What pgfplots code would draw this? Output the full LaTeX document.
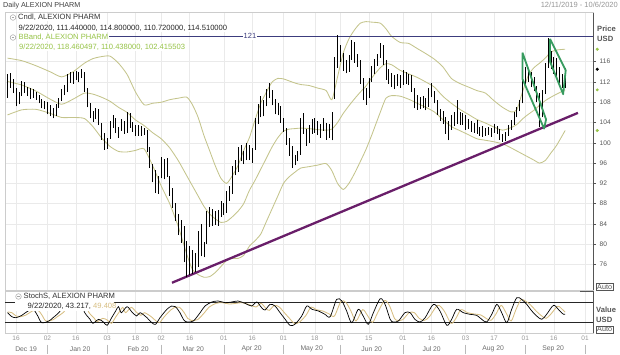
\documentclass[border=0pt]{standalone}
\usepackage{fontspec}
\setmainfont{Liberation Sans}
\usepackage{pgfplots}
\pgfplotsset{compat=1.18}
\usepackage{pgfplotstable}

\definecolor{bandcol}{RGB}{196,196,140}
\definecolor{bbtext}{RGB}{150,195,70}
\definecolor{trendcol}{RGB}{105,30,105}
\definecolor{lvlcol}{RGB}{60,60,125}
\definecolor{flagcol}{RGB}{55,155,95}
\definecolor{dcol}{RGB}{215,190,130}
\definecolor{gridcol}{RGB}{234,234,234}
\definecolor{txtgray}{RGB}{85,85,85}
\definecolor{lgray}{RGB}{150,150,150}

\pgfplotsset{
  discard if not/.style 2 args={
    x filter/.append code={
      \edef\tempa{\thisrow{#1}}
      \edef\tempb{#2}
      \ifx\tempa\tempb\else\def\pgfmathresult{inf}\fi
    }
  }
}
\tikzset{monthlab/.style={font=\fontsize{6.8}{7}\selectfont, text=gray!85!black, inner sep=0pt}}

\pgfplotstableread{
i o h l c up
0 109.5 113.6 108.8 112.8 1
1 112.5 113.8 110.9 111.4 0
2 111.6 112.6 109.8 110.6 0
3 110.4 110.8 107.2 108.0 0
4 108.3 110.1 107.6 109.6 1
5 109.8 112.2 109.2 111.6 1
6 111.4 112.0 109.8 110.2 0
7 110.3 111.0 109.2 110.6 1
8 110.5 110.9 108.6 109.1 0
9 109.0 110.6 108.9 109.9 1
10 109.8 110.0 108.4 108.6 0
11 108.7 109.4 107.8 108.2 0
12 108.0 108.6 106.8 107.2 0
13 107.4 108.2 106.6 107.8 1
14 107.8 108.0 105.6 106.0 0
15 106.2 107.4 105.2 106.8 1
16 106.5 106.9 104.8 105.4 0
17 105.6 107.6 105.2 107.2 1
18 107.3 108.9 106.9 108.6 1
19 108.5 110.6 108.2 110.3 1
20 110.4 111.4 109.4 110.0 0
21 110.4 113.6 110.0 113.2 1
22 113.0 114.0 111.8 112.4 0
23 112.6 113.9 111.6 113.5 1
24 113.4 114.2 112.4 112.8 0
25 112.7 113.9 111.9 113.6 1
26 113.6 114.5 112.8 114.0 1
27 113.6 113.9 110.0 110.6 0
28 110.6 110.9 107.0 107.6 0
29 107.6 107.9 104.8 105.4 0
30 105.5 106.3 104.2 105.8 1
31 105.8 106.8 104.6 105.0 0
32 105.4 106.7 103.5 104.0 0
33 103.8 104.0 100.6 101.2 0
34 101.0 101.9 98.6 99.4 0
35 99.6 101.0 98.8 100.4 1
36 101.0 104.4 100.8 103.8 1
37 103.8 105.5 102.9 104.8 1
38 104.5 104.9 101.9 102.4 0
39 102.2 103.2 101.0 102.9 1
40 103.0 104.6 102.4 104.2 1
41 104.1 104.4 101.8 102.3 0
42 102.4 106.1 102.0 105.6 1
43 105.4 105.8 103.0 103.6 0
44 103.4 104.2 102.2 103.0 0
45 103.2 103.5 101.3 101.8 0
46 101.9 103.6 101.4 103.1 1
47 103.0 103.4 101.4 101.9 0
48 102.2 103.0 101.6 102.4 1
49 102.0 102.5 98.2 98.8 0
50 98.7 99.2 95.0 95.6 0
51 95.4 95.9 92.2 92.8 0
52 93.0 94.6 90.1 91.0 0
53 90.6 93.5 90.0 93.2 1
54 93.4 97.2 93.0 96.8 1
55 96.4 96.8 92.8 93.4 0
56 93.6 97.0 93.2 94.0 1
57 93.0 93.4 89.6 90.2 0
58 90.0 91.0 87.2 88.0 0
59 87.0 88.2 84.6 85.4 0
60 85.0 86.0 81.8 82.4 0
61 82.0 84.8 80.2 83.6 1
62 83.0 83.6 76.4 77.2 0
63 76.5 80.6 73.5 79.8 1
64 78.0 79.6 74.0 74.6 0
65 74.8 78.8 74.2 78.2 1
66 77.0 78.2 74.6 76.4 0
67 76.4 82.6 75.6 81.8 1
68 82.0 84.0 77.6 78.6 0
69 79.0 80.4 77.4 79.6 1
70 80.2 86.6 80.0 85.8 1
71 86.0 87.4 83.4 84.2 0
72 84.4 87.0 83.6 86.4 1
73 86.0 86.6 83.8 84.4 0
74 84.6 86.8 83.6 86.2 1
75 86.0 88.6 85.4 88.0 1
76 87.6 88.2 85.8 86.6 0
77 86.8 90.4 86.2 90.0 1
78 89.8 91.4 88.6 89.2 0
79 90.4 95.4 90.0 94.8 1
80 95.0 96.6 93.6 94.4 0
81 94.6 99.2 94.2 98.6 1
82 98.6 99.6 96.4 97.2 0
83 97.0 98.4 95.8 96.6 0
84 97.0 99.9 96.6 99.4 1
85 99.2 99.6 96.6 97.4 0
86 97.6 99.0 96.0 98.4 1
87 99.0 104.8 98.6 104.2 1
88 104.4 107.6 103.8 107.0 1
89 106.6 109.2 105.0 105.6 0
90 105.8 108.4 105.2 107.8 1
91 107.8 110.6 107.2 110.2 1
92 110.0 111.7 108.8 109.6 0
93 109.4 110.4 107.4 108.0 0
94 108.0 108.6 105.6 106.2 0
95 106.4 107.8 105.4 107.2 1
96 106.8 107.2 104.0 104.6 0
97 104.4 104.8 102.2 102.8 0
98 102.6 103.0 99.6 100.2 0
99 100.4 101.0 97.4 98.0 0
100 98.0 99.4 95.0 96.4 0
101 96.6 97.6 95.6 97.0 1
102 97.2 98.4 96.4 97.8 1
103 98.0 104.8 97.6 104.2 1
104 104.0 105.8 101.8 102.4 0
105 102.2 102.8 99.4 100.2 0
106 100.4 103.6 100.0 103.0 1
107 103.0 104.6 101.8 102.2 0
108 102.6 104.8 102.0 104.2 1
109 104.0 104.4 101.6 102.0 0
110 102.2 103.8 101.0 103.2 1
111 103.4 104.8 102.4 103.6 1
112 103.4 104.0 100.6 101.4 0
113 101.6 103.8 101.0 103.2 1
114 103.0 106.0 100.5 105.6 1
115 109.0 117.0 108.6 116.2 1
116 116.0 121.3 114.8 118.6 1
117 118.4 119.2 116.0 116.8 0
118 116.6 117.8 114.2 115.0 0
119 115.2 116.4 113.7 114.4 0
120 114.6 117.4 114.0 117.0 1
121 117.2 120.3 116.4 119.4 1
122 119.2 119.8 115.8 116.4 0
123 116.4 117.6 115.0 115.8 0
124 116.0 116.4 111.6 112.2 0
125 112.0 112.8 108.4 109.2 0
126 109.0 110.8 107.5 110.2 1
127 110.4 112.8 108.8 112.4 1
128 112.6 115.2 112.0 114.6 1
129 114.4 116.6 113.6 115.8 1
130 116.0 117.6 115.2 117.2 1
131 117.4 119.6 116.8 118.6 1
132 118.4 119.2 115.4 115.8 0
133 115.6 116.4 112.4 113.2 0
134 113.4 114.6 111.6 112.6 0
135 112.4 113.8 111.0 113.2 1
136 113.0 113.4 110.6 111.4 0
137 111.6 113.6 111.2 113.0 1
138 112.8 113.4 110.8 111.6 0
139 111.8 114.4 111.4 113.8 1
140 113.6 114.0 111.6 112.2 0
141 112.4 113.6 111.4 113.2 1
142 113.0 113.4 110.0 110.6 0
143 110.4 110.8 106.8 107.4 0
144 107.6 109.4 106.5 108.8 1
145 108.6 109.0 106.6 107.2 0
146 107.4 109.2 106.8 108.6 1
147 108.4 108.8 106.4 107.0 0
148 107.2 110.8 107.0 110.4 1
149 110.2 111.7 109.0 109.6 0
150 109.6 110.2 107.8 108.2 0
151 108.0 108.4 105.4 106.0 0
152 106.2 106.6 104.4 105.0 0
153 105.0 106.2 103.8 104.4 0
154 104.6 105.0 101.8 102.4 0
155 102.6 104.4 100.5 103.8 1
156 103.6 105.4 102.6 104.8 1
157 104.6 106.0 103.4 104.0 0
158 104.2 108.4 103.8 105.6 1
159 105.4 106.0 103.6 104.2 0
160 104.4 105.8 103.6 105.2 1
161 105.0 105.4 102.6 103.2 0
162 103.4 104.6 102.8 104.0 1
163 104.0 104.4 102.2 102.6 0
164 102.8 104.0 102.0 103.6 1
165 103.4 104.5 101.8 102.2 0
166 102.4 103.2 101.4 102.8 1
167 102.6 103.4 101.2 101.8 0
168 101.8 103.0 101.4 102.6 1
169 102.4 103.2 101.6 102.0 0
170 102.2 103.0 101.2 102.6 1
171 102.8 103.8 102.0 103.2 1
172 103.0 103.4 101.8 102.0 0
173 102.0 102.8 100.6 101.0 0
174 101.0 101.8 100.2 100.8 0
175 100.8 102.2 100.4 101.8 1
176 101.8 103.6 101.4 103.2 1
177 103.2 104.5 102.6 104.0 1
178 104.0 106.0 103.6 105.6 1
179 105.6 107.1 105.0 106.8 1
180 106.8 108.4 106.2 107.8 1
181 108.0 115.0 107.8 114.4 1
182 114.2 115.0 111.6 112.4 0
183 112.6 114.7 112.0 114.2 1
184 113.8 114.0 111.0 111.4 0
185 111.6 113.0 110.2 110.6 0
186 110.4 111.2 108.0 108.6 0
187 108.8 109.8 103.2 105.0 0
188 105.2 110.4 105.0 109.8 1
189 110.0 115.7 109.6 115.2 1
190 115.4 120.6 114.8 117.4 1
191 117.4 118.2 114.6 115.2 0
192 115.0 117.0 113.6 116.4 1
193 116.2 116.8 113.0 113.6 0
194 113.8 115.0 111.8 112.6 0
195 112.4 113.6 110.8 111.6 0
196 111.44 114.8 110.72 114.51 1
}\candles

\pgfplotstableread{
i U M L
0 116.7 112.1 105.5
5 116.2 111.4 106.5
10 115.2 110.2 106.6
15 114.0 108.6 105.8
19 113.0 107.6 105.0
23 114.0 108.6 105.0
27 115.7 109.8 104.8
30 116.6 109.6 103.2
33 117.0 109.0 101.0
36 117.1 108.2 99.3
39 115.7 107.0 98.3
42 113.5 106.0 98.2
45 110.0 104.5 98.5
48 107.5 103.4 98.8
51 107.8 102.0 95.5
54 108.0 100.8 91.5
57 108.5 99.0 88.0
60 108.8 96.5 83.5
63 109.0 93.5 78.0
65 107.5 91.5 75.0
67 105.0 89.5 74.0
69 101.5 87.5 73.5
71 98.5 86.0 73.6
73 95.5 85.0 74.4
75 93.0 84.3 75.6
77 92.0 84.5 76.8
79 93.5 85.4 77.2
81 95.5 86.5 77.2
83 98.5 88.0 77.8
85 101.0 90.6 79.6
87 104.5 92.6 80.7
89 107.8 94.8 82.0
91 110.0 97.0 84.5
93 112.0 99.2 87.0
95 112.7 101.0 89.5
97 112.6 102.3 92.0
99 112.2 102.7 93.3
101 111.8 102.8 94.2
103 111.5 102.9 95.0
106 111.3 102.8 95.3
109 110.8 102.6 95.6
112 110.3 102.5 95.9
114 108.5 102.7 94.5
116 113.0 104.0 92.0
118 117.7 105.8 90.8
120 120.5 107.3 92.0
122 122.3 108.7 94.0
124 123.6 110.0 96.3
126 123.9 111.2 98.7
128 123.8 112.8 101.5
131 123.6 114.8 106.0
133 122.5 115.6 108.8
135 121.0 115.4 109.3
138 119.8 114.3 109.2
141 119.6 113.6 108.6
144 118.6 112.9 107.8
147 117.6 112.0 107.0
150 116.5 111.0 106.1
153 115.0 109.2 104.6
156 112.7 107.8 103.2
159 111.7 106.6 102.4
162 111.0 105.6 101.6
165 110.3 104.6 100.8
168 109.8 103.9 100.5
171 108.3 103.1 100.2
174 107.0 102.5 99.8
177 106.1 103.0 99.0
179 106.5 103.6 98.4
181 110.0 104.7 97.8
183 113.2 105.6 97.2
185 114.8 106.4 96.6
187 115.7 107.4 96.0
189 116.7 108.3 96.5
191 117.9 109.0 98.0
193 118.3 109.6 99.5
196 118.46 110.44 102.42
}\bands

\pgfplotstableread{
i k
0 48
1.5 36
3 33
5 40
7 52
9 58
10.5 40
12 18
14.5 23
16 33
18 48
20 70
22 85
24 88
26 82
27 50
29 28
30 16
32 28
33.7 20
35 10
36.6 33
38 53
39 66
40 48
42 66
43.7 50
45.4 38
46.6 48
49 33
50.7 18
52 13
53.6 33
56 58
57.7 68
59 66
60.6 48
61.8 28
63 20
65.3 23
67.7 48
69.4 68
71.8 80
74 83
76.5 78
78.8 80
81 83
83.5 76
85.8 68
87.6 80
89.3 63
90.5 56
92.3 73
94 68
95.8 48
97.6 28
99.3 10
101 13
103.4 38
105.2 68
107 58
109.3 53
111.6 43
113.4 36
115.7 88
117.5 83
119.2 53
121 18
123.3 58
125 38
126.8 13
128.6 48
131 90
132.7 73
134.5 28
135.6 20
137.4 23
139.7 48
141.5 48
143.2 28
145 20
146.8 33
149.7 73
152 53
154.4 10
156.1 28
157.9 58
160.2 48
162.6 43
164.9 40
166.7 28
168.4 20
170.2 43
172 73
173.7 48
175.5 18
177.2 58
179 93
180.7 88
182.5 73
184.3 53
186 38
187.8 28
189.5 43
191.9 70
193.6 58
195.4 43
196 43.2
}\stochK

\pgfplotstableread{
i d
0 50
1.5 48
3 38
4.5 36
6.5 41
8.5 52
10.5 57
12 42
13.5 23
16 27
17.5 36
19.5 48
21.5 67
23.5 80
25.5 82
27.5 77
28.5 50
30.5 31
31.5 21
33.5 31
35.2 25
36.5 16
38.1 36
39.5 53
40.5 64
41.5 48
43.5 64
45.2 50
46.9 40
48.1 48
50.5 36
52.2 23
53.5 19
55.1 36
57.5 57
59.2 65
60.5 64
62.1 48
63.3 31
64.5 25
66.8 27
69.2 48
70.9 65
73.3 76
75.5 78
78 74
80.3 76
82.5 78
85 72
87.3 65
89.1 76
90.8 61
92 55
93.8 70
95.5 65
97.3 48
99.1 31
100.8 16
102.5 19
104.9 40
106.7 65
108.5 57
110.8 53
113.1 44
114.9 38
117.2 82
119 78
120.7 53
122.5 23
124.8 57
126.5 40
128.3 19
130.1 48
132.5 84
134.2 70
136 31
137.1 25
138.9 27
141.2 48
143 48
144.7 31
146.5 25
148.3 36
151.2 70
153.5 53
155.9 16
157.6 31
159.4 57
161.7 48
164.1 44
166.4 41
168.2 31
169.9 25
171.7 44
173.5 70
175.2 48
177 23
178.7 57
180.5 87
182.2 82
184 70
185.8 53
187.5 40
189.3 31
191 44
193.4 67
195.1 57
196 49.4
}\stochD

\begin{document}
\begin{tikzpicture}
\path[use as bounding box] (0,0) rectangle (620pt,-354pt);

\begin{axis}[
  at={(5pt,-12.7pt)}, anchor=north west,
  scale only axis, width=588pt, height=277.3pt,
  xmin=-0.9, xmax=205.8, ymin=70.97, ymax=125.66,
  clip=false,
  axis line style={draw=gray!40, line width=0.5pt},
  xtick={3,14,24,35,45,54,64,76,86,97,108,117,127,139,149,161,171,182,192,203},
  xticklabels={},
  xtick style={draw=none},
  ytick={76,80,...,116},
  ytick pos=right, yticklabel pos=right,
  tick align=outside,
  major tick length=3pt,
  ytick style={draw=txtgray, line width=0.5pt},
  yticklabel style={font=\fontsize{6.6}{7}\selectfont, text=txtgray, inner sep=1pt, xshift=2.5pt},
  /pgf/number format/assume math mode=true,
  xmajorgrids, ymajorgrids, grid style={draw=gridcol, line width=0.4pt},
]
% Bollinger bands
\addplot[bandcol, line width=0.85pt, smooth, tension=0.4] table[x=i, y=U] {\bands};
\addplot[bandcol, line width=0.85pt, smooth, tension=0.4] table[x=i, y=M] {\bands};
\addplot[bandcol, line width=0.85pt, smooth, tension=0.4] table[x=i, y=L] {\bands};
% 121 level
\addplot[lvlcol, line width=0.7pt] coordinates {(33.6,121) (205.8,121)};
% trend line
\addplot[trendcol, line width=2.3pt] coordinates {(57.8,72.4) (200.5,105.9)};
% candles: wicks
\addplot[-, black, line width=0.6pt, quiver={u=0, v=\thisrow{h}-\thisrow{l}}] table[x=i, y=l] {\candles};
% down bodies
\addplot[-, black, line width=2.3pt, quiver={u=0, v=\thisrow{c}-\thisrow{o}}, discard if not={up}{0}] table[x=i, y=o] {\candles};
% up bodies (hollow-ish)
\addplot[-, black!90, line width=2.3pt, quiver={u=0, v=\thisrow{c}-\thisrow{o}}, discard if not={up}{1}] table[x=i, y=o] {\candles};
\addplot[-, gray!55, line width=1.0pt, quiver={u=0, v=\thisrow{c}-\thisrow{o}}, discard if not={up}{1}] table[x=i, y=o] {\candles};
% flags
\addplot[flagcol, line width=1.8pt, line join=round] coordinates {(181.0,117.8) (189.3,104.6) (188.6,102.8) (181.0,112.6) (181.0,117.8)};
\addplot[flagcol, line width=1.8pt, line join=round] coordinates {(190.7,120.5) (196.2,114.3) (195.3,109.6) (190.7,116.0) (190.7,120.5)};
% price scale markers
\addplot[only marks, mark=*, mark size=1.3pt, bbtext] coordinates {(207.3,118.46) (207.3,110.44) (207.3,102.42)};
\addplot[only marks, mark=*, mark size=1.3pt, black] coordinates {(207.3,114.51)};
\draw[txtgray, line width=0.7pt] (rel axis cs:1,0) -- (rel axis cs:1,1);
\end{axis}

\begin{axis}[
  at={(5pt,-291pt)}, anchor=north west,
  scale only axis, width=588pt, height=42pt,
  xmin=-0.9, xmax=205.8, ymin=-13, ymax=113,
  clip=false,
  axis line style={draw=gray!40, line width=0.5pt},
  ytick=\empty,
  xtick={3,14,24,35,45,54,64,76,86,97,108,117,127,139,149,161,171,182,192,203},
  xticklabels={16,02,16,03,18,02,16,01,16,01,18,01,15,01,16,03,17,01,16,01},
  xtick style={draw=none},
  xticklabel style={font=\fontsize{6.5}{7}\selectfont, text=lgray, inner sep=1pt, yshift=-1.5pt},
  xmajorgrids, grid style={draw=gridcol, line width=0.4pt},
]
\addplot[gray!30!black, line width=0.9pt] coordinates {(-0.9,80) (205.8,80)};
\addplot[gray!30!black, line width=0.9pt] coordinates {(-0.9,20) (205.8,20)};
\addplot[dcol, line width=0.85pt, smooth, tension=0.5] table[x=i, y=d] {\stochD};
\addplot[black, line width=0.7pt, smooth, tension=0.5] table[x=i, y=k] {\stochK};
\draw[txtgray, line width=0.7pt] (rel axis cs:1,0) -- (rel axis cs:1,1);
\node[monthlab] at ([yshift=-16pt]axis cs:6.5,-13) {Dec 19};
\node[monthlab] at ([yshift=-16pt]axis cs:25.5,-13) {Jan 20};
\node[monthlab] at ([yshift=-16pt]axis cs:45.9,-13) {Feb 20};
\node[monthlab] at ([yshift=-16pt]axis cs:65.3,-13) {Mar 20};
\node[monthlab] at ([yshift=-16pt]axis cs:85.8,-13) {Apr 20};
\node[monthlab] at ([yshift=-16pt]axis cs:106.9,-13) {May 20};
\node[monthlab] at ([yshift=-16pt]axis cs:128,-13) {Jun 20};
\node[monthlab] at ([yshift=-16pt]axis cs:149.1,-13) {Jul 20};
\node[monthlab] at ([yshift=-16pt]axis cs:170.7,-13) {Aug 20};
\node[monthlab] at ([yshift=-16pt]axis cs:191.8,-13) {Sep 20};
\pgfplotsinvokeforeach{14,35,54,76,97,117,139,161,182,203}{
  \draw[gray!55, line width=0.5pt] ([yshift=-11.5pt]axis cs:#1,-13) -- ([yshift=-20.5pt]axis cs:#1,-13);
}
\end{axis}

% titles
\node[anchor=west, inner sep=0pt, font=\fontsize{7.2}{8}\selectfont, text=black!75] at (3pt,-5.5pt) {Daily ALEXION PHARM};
\node[anchor=east, inner sep=0pt, font=\fontsize{7.5}{8}\selectfont, text=lgray] at (618pt,-5pt) {12/11/2019 - 10/6/2020};
% main legend
\draw[gray!70, line width=0.5pt, fill=white] (13pt,-17.5pt) circle (2.8pt);
\draw[gray!70, line width=0.5pt] (11.6pt,-17.5pt) -- (14.4pt,-17.5pt);
\node[anchor=west, inner sep=0.5pt, fill=white, font=\fontsize{7.6}{8}\selectfont, text=black!80] at (17.5pt,-17.5pt) {Cndl, ALEXION PHARM};
\node[anchor=west, inner sep=0.5pt, fill=white, font=\fontsize{7.6}{8}\selectfont, text=black!85] at (18pt,-28.3pt) {9/22/2020, 111.440000, 114.800000, 110.720000, 114.510000};
\draw[gray!70, line width=0.5pt, fill=white] (13pt,-37.5pt) circle (2.8pt);
\draw[gray!70, line width=0.5pt] (11.6pt,-37.5pt) -- (14.4pt,-37.5pt);
\node[anchor=west, inner sep=0.5pt, fill=white, font=\fontsize{7.6}{8}\selectfont, text=bbtext] at (18pt,-37.5pt) {BBand, ALEXION PHARM};
\node[anchor=west, inner sep=0.5pt, fill=white, font=\fontsize{7.6}{8}\selectfont, text=bbtext] at (18.5pt,-47pt) {9/22/2020, 118.460497, 110.438000, 102.415503};
\node[fill=white, inner sep=1pt, font=\fontsize{7.5}{8}\selectfont, text=lvlcol] at (250pt,-36.3pt) {121};
% right labels
\node[anchor=west, inner sep=0pt, font=\bfseries\fontsize{7.6}{8}\selectfont, text=txtgray] at (597pt,-29pt) {Price};
\node[anchor=west, inner sep=0pt, font=\bfseries\fontsize{7.6}{8}\selectfont, text=txtgray] at (597pt,-39pt) {USD};
\node[anchor=west, draw=txtgray, inner sep=1pt, font=\fontsize{7.2}{8}\selectfont, text=txtgray] at (596pt,-287pt) {Auto};
\draw[txtgray, line width=0.7pt] (580pt,-291pt) -- (593pt,-291pt);
\node[anchor=west, inner sep=0pt, font=\bfseries\fontsize{7.6}{8}\selectfont, text=txtgray] at (596pt,-310pt) {Value};
\node[anchor=west, inner sep=0pt, font=\bfseries\fontsize{7.6}{8}\selectfont, text=txtgray] at (596pt,-319.5pt) {USD};
\node[anchor=west, draw=txtgray, inner sep=1pt, font=\fontsize{7.2}{8}\selectfont, text=txtgray] at (596pt,-329.5pt) {Auto};
% stoch legend
\fill[white] (15pt,-292pt) rectangle (114pt,-311pt);
\draw[gray!70, line width=0.5pt, fill=white] (18.5pt,-296.5pt) circle (2.8pt);
\draw[gray!70, line width=0.5pt] (17.1pt,-296.5pt) -- (19.9pt,-296.5pt);
\node[anchor=west, inner sep=0.5pt, font=\fontsize{7.6}{8}\selectfont, text=black!80] at (23pt,-296.5pt) {StochS, ALEXION PHARM};
\node[anchor=west, inner sep=0.5pt, font=\fontsize{7.6}{8}\selectfont, text=black!85] at (27pt,-306.3pt) {9/22/2020, 43.217, \textcolor{dcol}{49.408}};
\end{tikzpicture}
\end{document}
